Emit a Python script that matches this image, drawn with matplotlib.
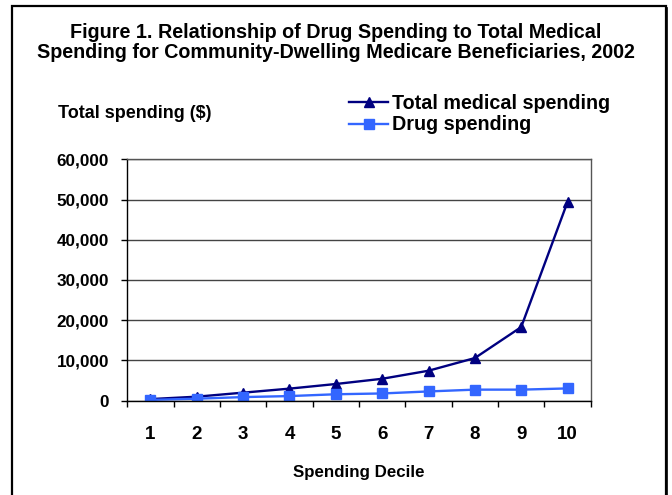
import numpy as np
import matplotlib.pyplot as plt
from matplotlib.patches import Rectangle
from matplotlib.lines import Line2D
from matplotlib.ticker import FuncFormatter

plt.rcParams['font.family'] = ['Liberation Sans', 'DejaVu Sans']
plt.rcParams['font.weight'] = 'bold'

deciles = ['1', '2', '3', '4', '5', '6', '7', '8', '9', '10']
total_medical = [400, 1000, 2000, 3000, 4150, 5450, 7450, 10600, 18300, 49400]
drug = [200, 500, 900, 1150, 1600, 1800, 2300, 2750, 2750, 3050]

W, H = 672, 495
fig = plt.figure(figsize=(W / 100, H / 100), dpi=100)

# outer box round the whole chart
fig.patches.append(Rectangle((12 / W, -0.05), 654 / W, 1.05 - 6 / H,
                             transform=fig.transFigure, fill=False,
                             edgecolor='black', lw=1.6))
fig.lines.append(Line2D([667 / W, 667 / W], [0, 1 - 8 / H],
                        transform=fig.transFigure, color='black', lw=1.2))

ax = fig.add_axes([127.3 / W, 1 - 400.7 / H, 463.4 / W, 241.4 / H])
x = np.arange(len(deciles))
ax.plot(x, total_medical, color='#000080', marker='^', markersize=7.5,
        lw=1.7, label='Total medical spending')
ax.plot(x, drug, color='#3366FF', marker='s', markersize=6.8,
        lw=1.7, label='Drug spending')

ax.set_xlim(-0.5, len(deciles) - 0.5)
ax.set_ylim(0, 60000)
ax.set_yticks(np.arange(0, 60001, 10000))
ax.yaxis.set_major_formatter(FuncFormatter(lambda v, p: f'{int(v):,}'))
ax.grid(axis='y', color='#444444', lw=1.0)
ax.set_axisbelow(True)

# tick marks sit between categories, labels in the middle
ax.set_xticks(np.arange(-0.5, len(deciles)), labels=[])
ax.set_xticks(x, labels=deciles, minor=True)
ax.tick_params(axis='x', which='major', direction='out', length=4, width=1)
ax.tick_params(axis='x', which='minor', length=0, pad=18, labelsize=13.5)
ax.tick_params(axis='y', direction='out', length=4, width=1, pad=9,
               labelsize=12.3)

for side in ['left', 'bottom']:
    ax.spines[side].set_color('black')
    ax.spines[side].set_linewidth(1.0)
for side in ['top', 'right']:
    ax.spines[side].set_color('#555555')
    ax.spines[side].set_linewidth(1.0)

ax.set_xlabel('Spending Decile', fontsize=12.2, fontweight='bold',
              labelpad=16)

fig.text(58 / W, 1 - 113 / H, 'Total spending ($)', fontsize=13,
         fontweight='bold', va='center', ha='left')

fig.text(0.5, 1 - 33 / H,
         'Figure 1. Relationship of Drug Spending to Total Medical',
         fontsize=14.2, fontweight='bold', ha='center', va='center')
fig.text(0.5, 1 - 53 / H,
         'Spending for Community-Dwelling Medicare Beneficiaries, 2002',
         fontsize=14.2, fontweight='bold', ha='center', va='center')

ax.legend(loc='center left', bbox_to_anchor=(341 / W, 1 - 114 / H),
          bbox_transform=fig.transFigure, frameon=False, fontsize=14.2,
          handlelength=2.0, handletextpad=0.2, labelspacing=0.15,
          borderaxespad=0)

fig.savefig('out.png', dpi=100)
